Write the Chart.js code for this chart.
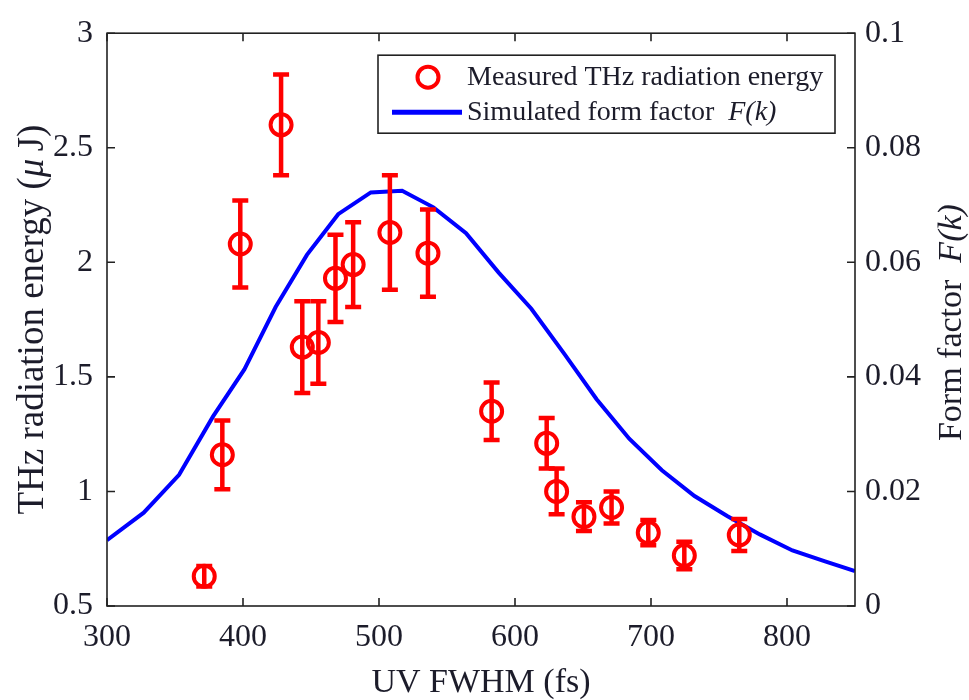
<!DOCTYPE html>
<html>
<head>
<meta charset="utf-8">
<script src="https://cdn.jsdelivr.net/npm/chart.js@4.4.0/dist/chart.umd.min.js"></script>
<style>
  body { margin: 0; background: #fff; }
  #wrap { width: 969px; height: 700px; }
</style>
</head>
<body>
<div id="wrap"><canvas id="myChart"></canvas></div>
<script>
// measured THz energy (left axis, uJ)
var measFwhm = [371.5, 384.8, 398, 428, 443.6, 455.4, 468, 481, 508, 536, 582.8, 623.3, 630.6, 650.7, 671, 698, 724.5, 764.9];
var measEnergy = [0.63, 1.16, 2.08, 2.60, 1.63, 1.65, 1.93, 1.99, 2.13, 2.04, 1.35, 1.21, 1.00, 0.89, 0.93, 0.82, 0.72, 0.81];
var measErr = [0.045, 0.15, 0.19, 0.22, 0.20, 0.18, 0.19, 0.185, 0.25, 0.19, 0.125, 0.11, 0.10, 0.063, 0.07, 0.055, 0.06, 0.07];

// simulated form factor (right axis)
var simFwhm = [300, 327, 353, 378, 401, 424, 447, 470, 494, 517, 540, 564, 588, 612, 636, 660, 684, 708, 732, 756, 780, 804, 828, 850];
var simF = [0.0115, 0.0163, 0.0229, 0.0331, 0.0413, 0.0522, 0.0613, 0.0684, 0.0722, 0.0725, 0.0696, 0.0651, 0.0582, 0.0519, 0.0441, 0.0361, 0.0292, 0.0237, 0.0192, 0.0157, 0.0125, 0.0097, 0.0078, 0.0061];

var xTicks = [300, 400, 500, 600, 700, 800];
var yTicks = [0.5, 1, 1.5, 2, 2.5, 3];
var y1Ticks = [0, 0.02, 0.04, 0.06, 0.08, 0.1];

var SERIF = "'Liberation Serif', 'Times New Roman', serif";
var INK = "#1c1c2a";

var measPts = measFwhm.map(function (x, i) { return { x: x, y: measEnergy[i] }; });
var simPts = simFwhm.map(function (x, i) { return { x: x, y: simF[i] }; });

function setTicks(list) {
    return function (scale) {
        scale.ticks = list.map(function (v) { return { value: v }; });
    };
}

// inward tick marks + box + error bars + legend + axis titles
var decor = {
    id: "decor",
    afterDatasetsDraw: function (chart) {
        var ctx = chart.ctx;
        var xs = chart.scales.x, ys = chart.scales.y;
        ctx.save();
        ctx.strokeStyle = "#ff0000";
        ctx.lineWidth = 4.5;
        for (var i = 0; i < measFwhm.length; i++) {
            var px = xs.getPixelForValue(measFwhm[i]);
            var top = ys.getPixelForValue(measEnergy[i] + measErr[i]);
            var bot = ys.getPixelForValue(measEnergy[i] - measErr[i]);
            ctx.beginPath();
            ctx.moveTo(px, top); ctx.lineTo(px, bot);
            ctx.moveTo(px - 8, top); ctx.lineTo(px + 8, top);
            ctx.moveTo(px - 8, bot); ctx.lineTo(px + 8, bot);
            ctx.stroke();
        }
        ctx.restore();
    },
    afterDraw: function (chart) {
        var ctx = chart.ctx;
        var a = chart.chartArea;
        var xs = chart.scales.x, ys = chart.scales.y, y1 = chart.scales.y1;
        ctx.save();
        ctx.strokeStyle = "#222";
        ctx.lineWidth = 1.6;
        ctx.strokeRect(a.left, a.top, a.right - a.left, a.bottom - a.top);
        var tl = 8;
        ctx.beginPath();
        xTicks.forEach(function (v) {
            var p = xs.getPixelForValue(v);
            ctx.moveTo(p, a.bottom); ctx.lineTo(p, a.bottom - tl);
            ctx.moveTo(p, a.top); ctx.lineTo(p, a.top + tl);
        });
        yTicks.forEach(function (v) {
            var p = ys.getPixelForValue(v);
            ctx.moveTo(a.left, p); ctx.lineTo(a.left + tl, p);
        });
        y1Ticks.forEach(function (v) {
            var p = y1.getPixelForValue(v);
            ctx.moveTo(a.right, p); ctx.lineTo(a.right - tl, p);
        });
        ctx.stroke();

        // legend
        var lx = a.left + 271, ly = a.top + 22, lw = 457, lh = 78;
        ctx.fillStyle = "#fff";
        ctx.fillRect(lx, ly, lw, lh);
        ctx.lineWidth = 1.6;
        ctx.strokeStyle = "#222";
        ctx.strokeRect(lx, ly, lw, lh);
        ctx.strokeStyle = "#ff0000";
        ctx.lineWidth = 4;
        ctx.beginPath();
        ctx.arc(lx + 50, ly + 22, 10.5, 0, Math.PI * 2);
        ctx.stroke();
        ctx.strokeStyle = "#0000ff";
        ctx.lineWidth = 5;
        ctx.beginPath();
        ctx.moveTo(lx + 14, ly + 57); ctx.lineTo(lx + 84, ly + 57);
        ctx.stroke();
        ctx.fillStyle = INK;
        ctx.textBaseline = "middle";
        ctx.textAlign = "left";
        ctx.font = "28px " + SERIF;
        ctx.fillText("Measured THz radiation energy", lx + 89, ly + 22);
        drawMixed(ctx, [["Simulated form factor  ", ""], ["F(k)", "italic "]], lx + 89, ly + 57, 28, false);

        // axis titles
        ctx.textBaseline = "alphabetic";
        ctx.font = "34px " + SERIF;
        ctx.textAlign = "center";
        ctx.fillText("UV FWHM (fs)", (a.left + a.right) / 2, 692);

        var midY = (a.top + a.bottom) / 2;
        ctx.save();
        ctx.translate(43, midY);
        ctx.rotate(-Math.PI / 2);
        drawMixed(ctx, [["THz radiation energy (", ""], ["\u03bc", "italic "], ["\u2009J)", ""]], 0, 0, 37, true);
        ctx.restore();

        ctx.save();
        ctx.translate(961, midY + 3);
        ctx.rotate(-Math.PI / 2);
        drawMixed(ctx, [["Form factor  ", ""], ["F(k)", "italic "]], 0, 0, 34, true);
        ctx.restore();

        ctx.restore();
    }
};

function drawMixed(ctx, parts, x, y, size, centered) {
    var total = 0;
    parts.forEach(function (p) {
        ctx.font = p[1] + size + "px " + SERIF;
        total += ctx.measureText(p[0]).width;
    });
    var cx = centered ? x - total / 2 : x;
    ctx.textAlign = "left";
    parts.forEach(function (p) {
        ctx.font = p[1] + size + "px " + SERIF;
        ctx.fillText(p[0], cx, y);
        cx += ctx.measureText(p[0]).width;
    });
}

new Chart("myChart", {
    data: {
        datasets: [{
            type: "scatter",
            label: "Measured THz radiation energy",
            data: measPts,
            yAxisID: "y",
            order: 0,
            pointStyle: "circle",
            pointRadius: 10.5,
            pointBorderWidth: 4,
            borderColor: "#ff0000",
            backgroundColor: "rgba(0,0,0,0)"
        }, {
            type: "line",
            label: "Simulated form factor F(k)",
            data: simPts,
            yAxisID: "y1",
            order: 1,
            borderColor: "#0000ff",
            borderWidth: 4,
            pointRadius: 0,
            tension: 0,
            fill: false
        }]
    },
    options: {
        responsive: true,
        maintainAspectRatio: false,
        animation: false,
        layout: { padding: { top: 23, left: 0, right: 0, bottom: 0 } },
        plugins: {
            legend: { display: false },
            tooltip: { enabled: false }
        },
        scales: {
            x: {
                type: "linear",
                position: "bottom",
                min: 300, max: 850,
                afterBuildTicks: setTicks(xTicks),
                afterFit: function (s) { s.height = 94; },
                grid: { display: false, drawTicks: false },
                border: { display: false },
                ticks: {
                    padding: 12,
                    color: INK,
                    font: { family: SERIF, size: 32 },
                    maxRotation: 0,
                    callback: function (v) { return String(v); }
                }
            },
            y: {
                type: "linear",
                position: "left",
                min: 0.5, max: 3,
                afterBuildTicks: setTicks(yTicks),
                afterFit: function (s) { s.width = 107; },
                grid: { display: false, drawTicks: false },
                border: { display: false },
                ticks: {
                    padding: 14,
                    color: INK,
                    font: { family: SERIF, size: 32 },
                    callback: function (v) { return String(+v.toFixed(2)); }
                }
            },
            y1: {
                type: "linear",
                position: "right",
                min: 0, max: 0.1,
                afterBuildTicks: setTicks(y1Ticks),
                afterFit: function (s) { s.width = 114; },
                grid: { display: false, drawTicks: false },
                border: { display: false },
                ticks: {
                    padding: 10,
                    color: INK,
                    font: { family: SERIF, size: 32 },
                    callback: function (v) { return String(+v.toFixed(3)); }
                }
            }
        }
    },
    plugins: [decor]
});
</script>
</body>
</html>
